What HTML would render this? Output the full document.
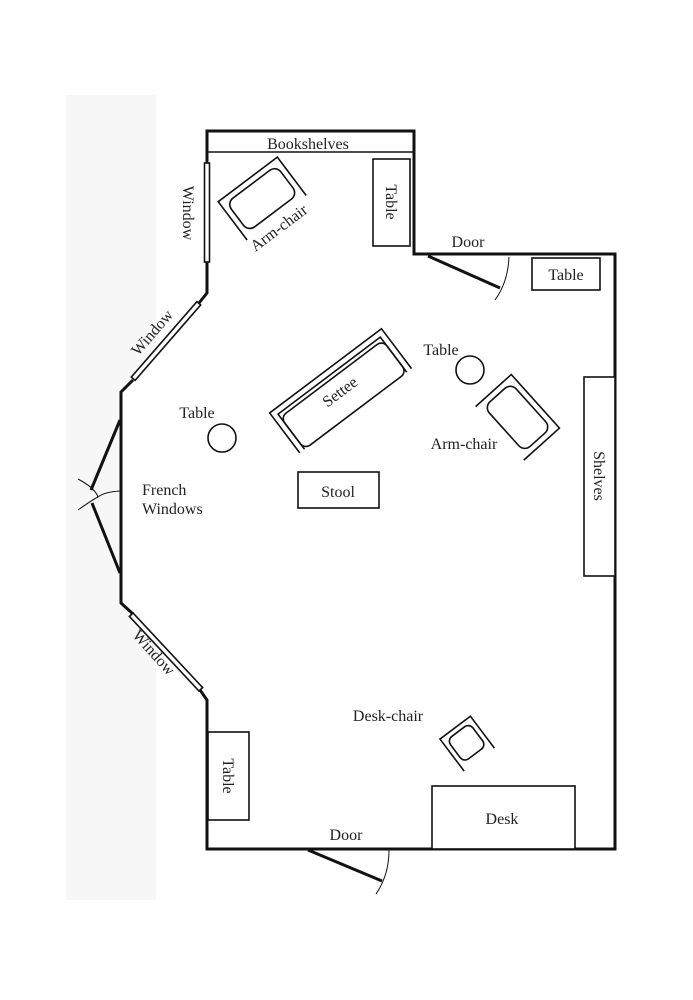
<!DOCTYPE html>
<html><head><meta charset="utf-8"><style>
html,body{margin:0;padding:0;background:#fff;}
svg{display:block;}
text{font-family:"Liberation Serif",serif;font-size:16px;fill:#222;}
</style></head><body>
<svg width="693" height="1000" viewBox="0 0 693 1000" xmlns="http://www.w3.org/2000/svg">
<rect x="66" y="95" width="90" height="805" fill="#f7f7f7"/>
<polygon points="207,131 414,131 414,254 615,254 615,849 207,849 207,700 121,603 121,392 207,293" fill="#fff"/>
<g fill="none" stroke="#111" stroke-width="3">
<polyline points="207,262 207,131 414,131 414,254 615,254 615,849 207,849 207,700 200,690"/>
<polyline points="133,614 121,603 121,392 133,380"/>
<polyline points="199,303 207,293 207,262"/>
</g>
<g fill="#fff" stroke="#111" stroke-width="1.6">
<line x1="207" y1="152" x2="414" y2="152"/>
<rect x="204.5" y="163" width="5" height="99"/>
<rect x="373" y="159" width="37" height="87"/>
<rect x="532" y="258" width="68" height="32"/>
<rect x="584" y="377" width="31" height="199"/>
<rect x="208" y="732" width="41" height="88"/>
<rect x="432" y="786" width="143" height="63"/>
<rect x="298" y="472" width="81" height="36"/>
<circle cx="222" cy="438" r="14"/>
<circle cx="470" cy="370" r="14"/>
<rect x="-50" y="-2.5" width="100" height="5" transform="translate(166,341) rotate(-49)"/>
<rect x="-51" y="-2.5" width="102" height="5" transform="translate(166,652) rotate(47)"/>
</g>
<g fill="none" stroke="#111">
<line x1="120" y1="420" x2="91" y2="490" stroke-width="3"/>
<line x1="92" y1="503" x2="120" y2="573" stroke-width="3"/>
<path d="M78,479 Q95,488 98,497 Q104,492 120,491" stroke-width="1"/>
<path d="M78,510 Q92,500 98,497" stroke-width="1"/>
<line x1="428" y1="256" x2="500" y2="288" stroke-width="3"/>
<path d="M509,257 Q508,282 495,300" stroke-width="1"/>
<line x1="308" y1="850" x2="382" y2="881" stroke-width="3"/>
<path d="M389,850 Q389,875 376,894" stroke-width="1"/>
</g>
<g fill="none" stroke="#111" stroke-width="1.6">
<g transform="translate(340,390) rotate(-37)">
<path d="M-70,26 L-70,-24 L70,-24 L70,26"/>
<path d="M-64,26 L-64,-18 L64,-18 L64,26"/>
<rect x="-64" y="-14" width="128" height="40" rx="7"/>
</g>
<g transform="translate(261,197) rotate(-37)">
<path d="M-37,26 L-37,-22 L37,-22 L37,26"/>
<rect x="-31" y="-16" width="62" height="36" rx="8"/>
</g>
<g transform="translate(519,416) rotate(48)">
<path d="M-36,26 L-36,-22 L36,-22 L36,26"/>
<rect x="-30" y="-16" width="60" height="36" rx="8"/>
</g>
<g transform="translate(466,742) rotate(-37)">
<path d="M-19,22 L-19,-18 L19,-18 L19,22"/>
<rect x="-14" y="-13" width="28" height="28" rx="6"/>
</g>
</g>
<text x="308" y="149" text-anchor="middle">Bookshelves</text>
<text transform="translate(183,213) rotate(90)" text-anchor="middle">Window</text>
<text transform="translate(282,232) rotate(-37)" text-anchor="middle">Arm-chair</text>
<text transform="translate(386,202) rotate(90)" text-anchor="middle">Table</text>
<text x="468" y="247" text-anchor="middle">Door</text>
<text x="566" y="280" text-anchor="middle">Table</text>
<text transform="translate(156,336) rotate(-49)" text-anchor="middle">Window</text>
<text x="441" y="355" text-anchor="middle">Table</text>
<text transform="translate(343,396) rotate(-37)" text-anchor="middle">Settee</text>
<text x="197" y="418" text-anchor="middle">Table</text>
<text x="464" y="449" text-anchor="middle">Arm-chair</text>
<text transform="translate(594,476) rotate(90)" text-anchor="middle">Shelves</text>
<text x="142" y="495">French</text>
<text x="142" y="514">Windows</text>
<text x="338" y="497" text-anchor="middle">Stool</text>
<text transform="translate(150,656) rotate(48)" text-anchor="middle">Window</text>
<text x="388" y="721" text-anchor="middle">Desk-chair</text>
<text transform="translate(223,776) rotate(90)" text-anchor="middle">Table</text>
<text x="502" y="824" text-anchor="middle">Desk</text>
<text x="346" y="840" text-anchor="middle">Door</text>
</svg>
</body></html>
